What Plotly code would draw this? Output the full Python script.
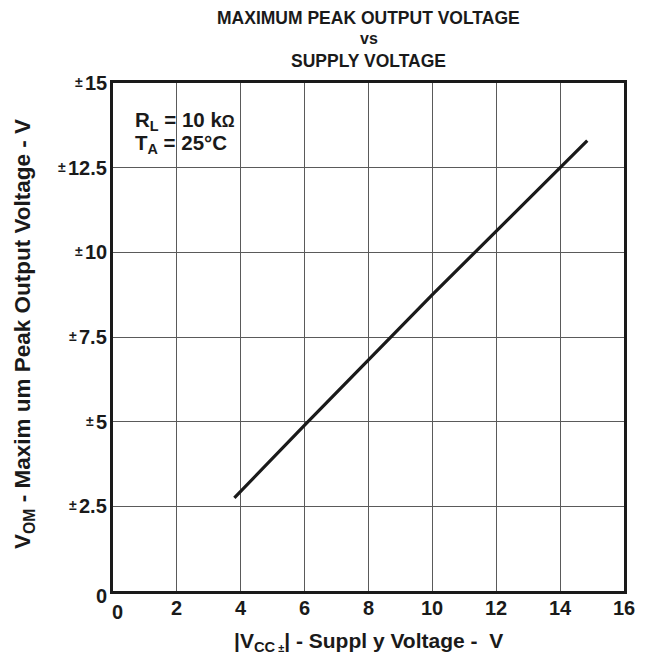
import plotly.graph_objects as go

# data
supply_v = [3.8, 6.0, 10.0, 14.0, 14.85]
vom = [2.75, 4.9, 8.75, 12.5, 13.3]

x_ticks = [0, 2, 4, 6, 8, 10, 12, 14, 16]
x_tick_labels = ["0", "2", "4", "6", "8", "10", "12", "14", "16"]
y_ticks = [0, 2.5, 5, 7.5, 10, 12.5, 15]
y_tick_labels = ["0", "±2.5", "±5", "±7.5", "±10", "±12.5", "±15"]

FONT = "Liberation Sans, Arial, sans-serif"
INK = "#1a1a1a"
TICK_SIZE = 20
PM_SIZE = 14


def text_width(s, size):
    # Liberation Sans Bold advance widths (em) for digits and period
    w = sum(0.278 if ch == "." else 0.556 for ch in s)
    return w * size


fig = go.Figure()
fig.add_trace(go.Scatter(x=supply_v, y=vom, mode="lines",
                         line=dict(color=INK, width=3.2),
                         showlegend=False, hoverinfo="skip"))

fig.update_layout(
    width=641, height=654,
    margin=dict(l=105, r=25, t=75, b=71),
    paper_bgcolor="white", plot_bgcolor="white",
    font=dict(family=FONT, color=INK, size=20),
    xaxis=dict(range=[0, 16], tickvals=x_ticks, showticklabels=False,
               showgrid=True, gridcolor="#5a5a5a", gridwidth=1.2,
               showline=True, linecolor=INK, linewidth=2.5, mirror=True,
               zeroline=False, ticks="", fixedrange=True),
    yaxis=dict(range=[0, 15], tickvals=y_ticks, showticklabels=False,
               showgrid=True, gridcolor="#5a5a5a", gridwidth=1.2,
               showline=True, linecolor=INK, linewidth=2.5, mirror=True,
               zeroline=False, ticks="", fixedrange=True),
)

# y tick labels: small "±" followed by bold digits
for v, lbl in zip(y_ticks, y_tick_labels):
    dy = -5 if v == 0 else 0
    digits = lbl.lstrip("±")
    fig.add_annotation(x=0, y=v, xref="paper", yref="y",
                       text="<b>%s</b>" % digits,
                       showarrow=False, xanchor="right", yanchor="middle",
                       xshift=-4, yshift=dy, font=dict(size=TICK_SIZE, family=FONT))
    if lbl.startswith("±"):
        fig.add_annotation(x=0, y=v, xref="paper", yref="y",
                           text="<b>±</b>",
                           showarrow=False, xanchor="right", yanchor="middle",
                           xshift=-4 - text_width(digits, TICK_SIZE) - 2,
                           yshift=1, font=dict(size=PM_SIZE, family=FONT))

# x tick labels (the "0" sits slightly lower and inward, as in the reference)
for v, lbl in zip(x_ticks, x_tick_labels):
    dx = 4 if v == 0 else 0
    dy = -8 if v == 0 else -4
    fig.add_annotation(x=v, y=0, xref="x", yref="paper", text="<b>%s</b>" % lbl,
                       showarrow=False, yanchor="top", xshift=dx, yshift=dy,
                       font=dict(size=TICK_SIZE, family=FONT))

# title
fig.add_annotation(x=0.5, y=1.0, xref="paper", yref="paper", xanchor="center",
                   yanchor="middle", yshift=65, showarrow=False,
                   text="<b>MAXIMUM PEAK OUTPUT VOLTAGE</b>",
                   font=dict(size=17.5, family=FONT))
fig.add_annotation(x=0.5, y=1.0, xref="paper", yref="paper", xanchor="center",
                   yanchor="middle", yshift=45, showarrow=False,
                   text="<b>vs</b>", font=dict(size=16, family=FONT))
fig.add_annotation(x=0.5, y=1.0, xref="paper", yref="paper", xanchor="center",
                   yanchor="middle", yshift=22, showarrow=False,
                   text="<b>SUPPLY VOLTAGE</b>", font=dict(size=17.5, family=FONT))

# axis titles
fig.add_annotation(x=0.5, y=0, xref="paper", yref="paper", xanchor="center",
                   yanchor="middle", yshift=-51, showarrow=False,
                   text="<b>|V<sub>CC<span style=\"font-size:11px\"> ±</span></sub>| - Suppl y Voltage -  V</b>",
                   font=dict(size=21, family=FONT))
fig.add_annotation(x=0, y=0.5, xref="paper", yref="paper", xanchor="center",
                   yanchor="middle", xshift=-89, yshift=3, showarrow=False, textangle=-90,
                   text="<b>V<sub>OM</sub> - Maxim um Peak Output Voltage - V</b>",
                   font=dict(size=22.5, family=FONT))

# conditions text
fig.add_annotation(x=0, y=1, xref="paper", yref="paper", xanchor="left",
                   yanchor="middle", xshift=20, yshift=-38, showarrow=False,
                   text="<b>R<sub>L</sub> = 10 k<span style=\"font-size:16px\">Ω</span></b>",
                   font=dict(size=20.5, family=FONT))
fig.add_annotation(x=0, y=1, xref="paper", yref="paper", xanchor="left",
                   yanchor="middle", xshift=20, yshift=-61, showarrow=False,
                   text="<b>T<sub>A</sub> = 25°C</b>",
                   font=dict(size=20.5, family=FONT))

fig.write_html("out.html")
